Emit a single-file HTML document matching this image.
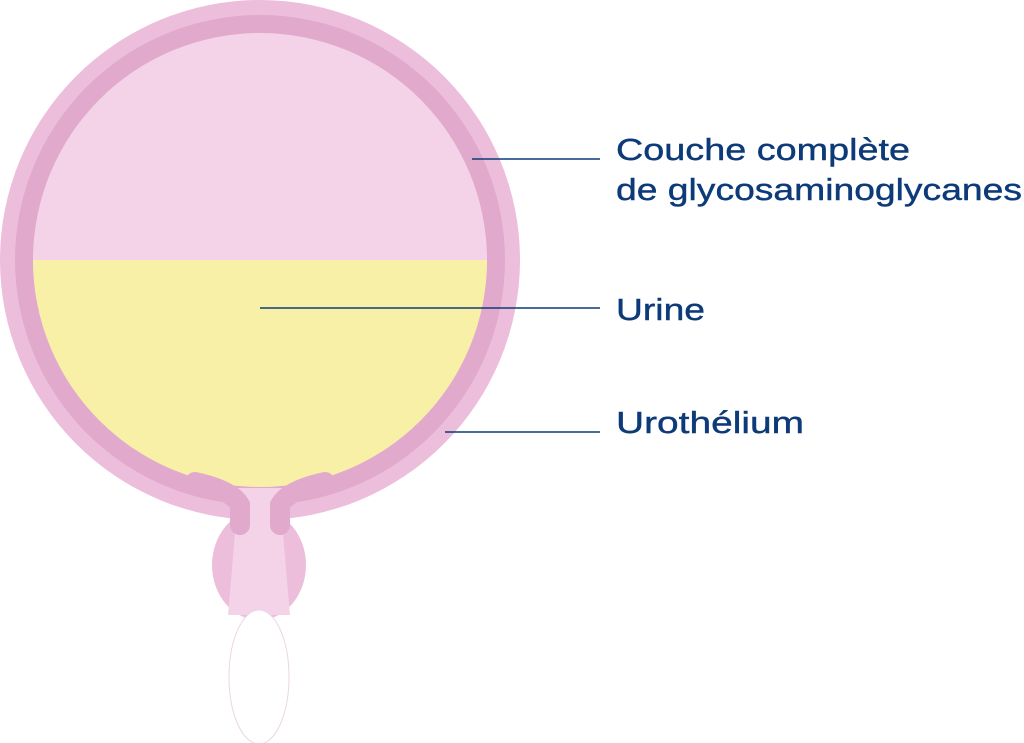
<!DOCTYPE html>
<html><head><meta charset="utf-8"><style>
html,body{margin:0;padding:0;background:#fff;}
svg{display:block}
text{font-family:"Liberation Sans",sans-serif;fill:#0d3a78;font-size:31px;stroke:#0d3a78;stroke-width:0.4;}
</style></head><body>
<svg width="1024" height="743" viewBox="0 0 1024 743">
<defs>
<clipPath id="inner"><circle cx="260" cy="260" r="227"/></clipPath>
</defs>
<ellipse cx="259" cy="565" rx="47" ry="55" fill="#ecbedb"/>
<path d="M236 520 L282 520 Q286 570 290 615 L228 615 Q232 570 236 520Z" fill="#f4d3e8"/>
<circle cx="260" cy="260" r="260" fill="#ecbedb"/>
<circle cx="260" cy="260" r="245" fill="#e1a9cc"/>
<circle cx="260" cy="260" r="227" fill="#f4d3e8"/>
<rect x="0" y="260" width="520" height="300" fill="#f8f0a6" clip-path="url(#inner)"/>
<rect x="234" y="488" width="52" height="40" fill="#f4d3e8"/>
<path d="M195 482 Q232 490 240 505 L240 525" stroke="#e1a9cc" stroke-width="20" fill="none" stroke-linecap="round"/>
<path d="M325 482 Q288 490 280 505 L280 525" stroke="#e1a9cc" stroke-width="20" fill="none" stroke-linecap="round"/>
<ellipse cx="259" cy="677" rx="30" ry="67" fill="#fff" stroke="#ead6e6" stroke-width="1"/>
<line x1="472" y1="159" x2="600" y2="159" stroke="#0d3a78" stroke-width="1.5"/>
<line x1="260" y1="308" x2="600" y2="308" stroke="#0d3a78" stroke-width="1.5"/>
<line x1="445" y1="432" x2="600" y2="432" stroke="#0d3a78" stroke-width="1.5"/>
<text x="616" y="160" textLength="294" lengthAdjust="spacingAndGlyphs">Couche complète</text>
<text x="616" y="200" textLength="406" lengthAdjust="spacingAndGlyphs">de glycosaminoglycanes</text>
<text x="616" y="320" textLength="89" lengthAdjust="spacingAndGlyphs">Urine</text>
<text x="616" y="433" textLength="188" lengthAdjust="spacingAndGlyphs">Urothélium</text>
</svg>
</body></html>
